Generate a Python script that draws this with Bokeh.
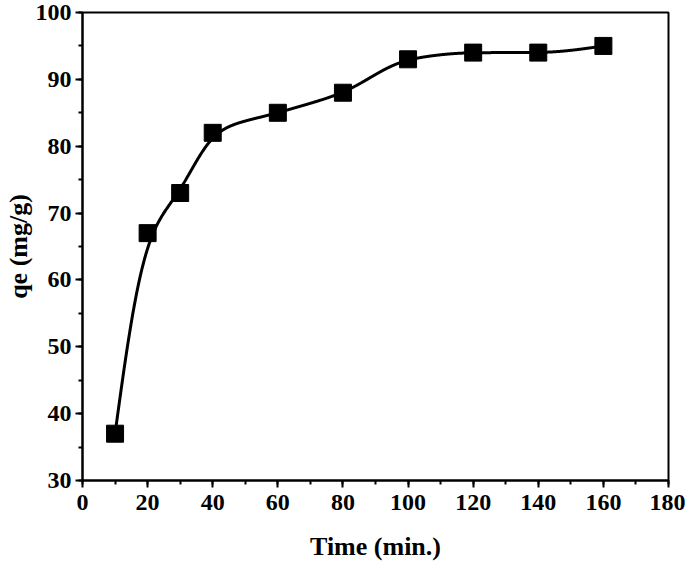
import numpy as np
from bokeh.plotting import figure
from bokeh.models import FixedTicker, Range1d
from bokeh.embed import file_html
from bokeh.resources import INLINE

time_min = [10, 20, 30, 40, 60, 80, 100, 120, 140, 160]
qe = [37, 67, 73, 82, 85, 88, 93, 94, 94, 95]
x_ticks = [0, 20, 40, 60, 80, 100, 120, 140, 160, 180]
y_ticks = [30, 40, 50, 60, 70, 80, 90, 100]


def pchip(x, y, xs):
    x = np.asarray(x, float)
    y = np.asarray(y, float)
    h = np.diff(x)
    delta = np.diff(y) / h
    m = len(x)
    d = np.zeros(m)
    for k in range(1, m - 1):
        if delta[k - 1] * delta[k] > 0:
            w1 = 2 * h[k] + h[k - 1]
            w2 = h[k] + 2 * h[k - 1]
            d[k] = (w1 + w2) / (w1 / delta[k - 1] + w2 / delta[k])
    d[0] = ((2 * h[0] + h[1]) * delta[0] - h[0] * delta[1]) / (h[0] + h[1])
    if np.sign(d[0]) != np.sign(delta[0]):
        d[0] = 0
    d[-1] = ((2 * h[-1] + h[-2]) * delta[-1] - h[-1] * delta[-2]) / (h[-1] + h[-2])
    if np.sign(d[-1]) != np.sign(delta[-1]):
        d[-1] = 0
    ys = np.empty_like(xs)
    for j, xv in enumerate(xs):
        i = min(np.searchsorted(x, xv, side="right") - 1, m - 2)
        t = (xv - x[i]) / h[i]
        h00 = 2 * t**3 - 3 * t**2 + 1
        h10 = t**3 - 2 * t**2 + t
        h01 = -2 * t**3 + 3 * t**2
        h11 = t**3 - t**2
        ys[j] = h00 * y[i] + h10 * h[i] * d[i] + h01 * y[i + 1] + h11 * h[i] * d[i + 1]
    return ys


def smooth_curve(x, y, sigma=4.0, step=0.1):
    xs = np.arange(x[0], x[-1] + step / 2, step)
    ys = pchip(x, y, xs)
    k = int(4 * sigma / step)
    # odd reflection at both ends keeps end values fixed
    left = 2 * ys[0] - ys[1:k + 1][::-1]
    right = 2 * ys[-1] - ys[-k - 1:-1][::-1]
    padded = np.concatenate([left, ys, right])
    t = np.arange(-k, k + 1) * step
    kern = np.exp(-0.5 * (t / sigma) ** 2)
    kern /= kern.sum()
    sm = np.convolve(padded, kern, mode="same")[k:k + len(ys)]
    return xs, sm


sx, sy = smooth_curve(time_min, qe)

p = figure(width=685, height=565, output_backend="svg", toolbar_location=None,
           x_range=Range1d(0, 180), y_range=Range1d(30, 100),
           min_border_left=82, min_border_right=17, min_border_top=12, min_border_bottom=85)
p.xgrid.visible = False
p.ygrid.visible = False
p.outline_line_color = "black"
p.outline_line_width = 2
p.outline_line_alpha = 1

p.line(sx, sy, line_color="black", line_width=3)
p.scatter(time_min, qe, marker="square", size=17, fill_color="black", line_color="black")

font = "Liberation Serif"
for ax in (p.xaxis[0], p.yaxis[0]):
    ax.axis_line_width = 2
    ax.axis_line_color = "black"
    ax.major_tick_line_width = 2
    ax.minor_tick_line_width = 2
    ax.major_tick_out = 7
    ax.major_tick_in = 0
    ax.minor_tick_out = 4
    ax.minor_tick_in = 0
    ax.major_label_text_font = font
    ax.major_label_text_font_style = "bold"
    ax.major_label_text_font_size = "24px"
    ax.major_label_text_color = "black"
    ax.axis_label_text_font = font
    ax.axis_label_text_font_style = "bold"
    ax.axis_label_text_font_size = "26px"
    ax.axis_label_text_color = "black"

p.xaxis[0].major_label_standoff = 7
p.yaxis[0].major_label_standoff = 4
p.xaxis[0].ticker = FixedTicker(ticks=x_ticks, minor_ticks=list(range(0, 181, 10)))
p.yaxis[0].ticker = FixedTicker(ticks=y_ticks, minor_ticks=list(range(30, 101, 5)))
p.xaxis[0].axis_label = "Time (min.)"
p.yaxis[0].axis_label = "qe (mg/g)"
p.xaxis[0].axis_label_standoff = 19
p.yaxis[0].axis_label_standoff = 0

open("out.html", "w").write(file_html(p, INLINE))
